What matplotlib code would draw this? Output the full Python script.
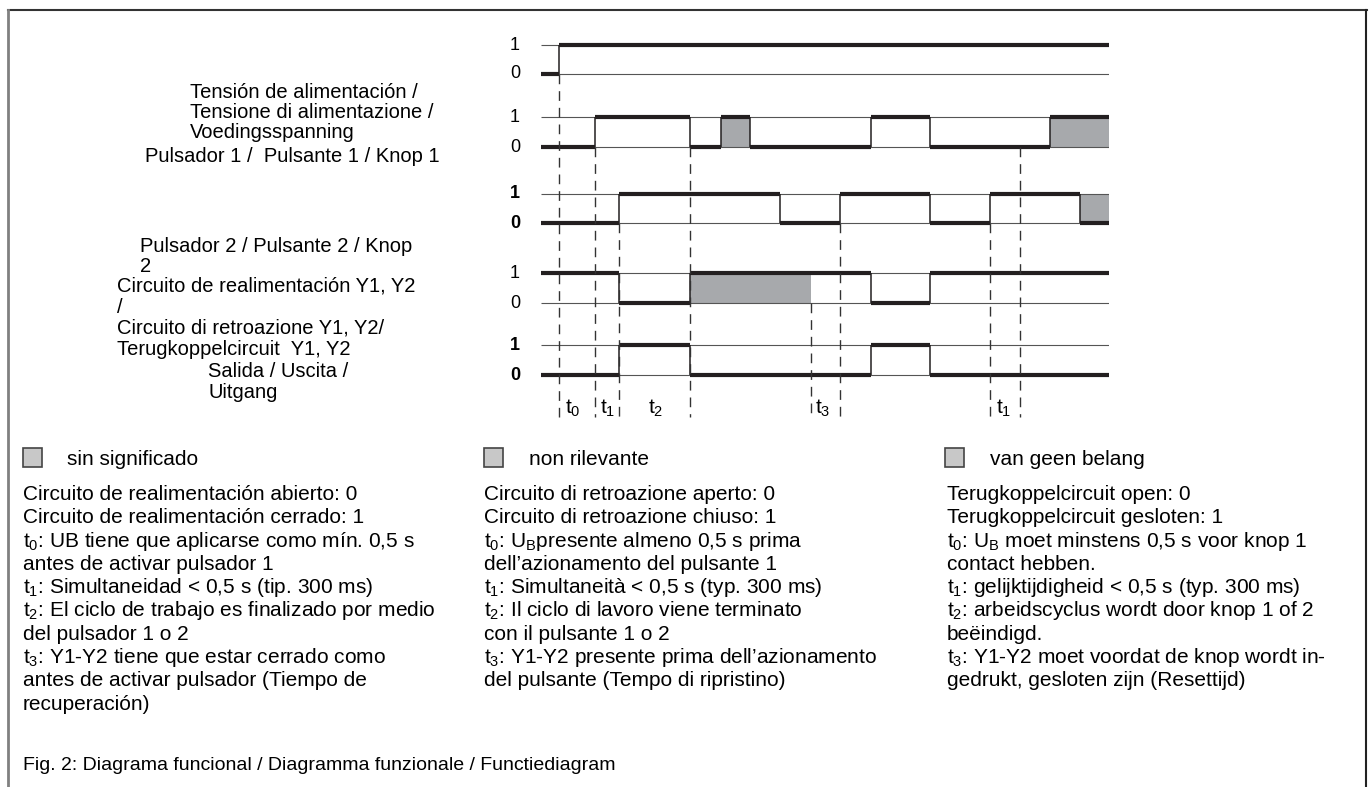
import matplotlib.pyplot as plt
from matplotlib.patches import Rectangle

plt.rcParams['font.family'] = ['Liberation Sans', 'DejaVu Sans']
plt.rcParams['mathtext.fontset'] = 'custom'
plt.rcParams['mathtext.rm'] = 'Liberation Sans'
plt.rcParams['mathtext.it'] = 'Liberation Sans:italic'

# tiempo del diagrama (unidades arbitrarias)
T_END = 56.8

# flancos y estados de cada señal: 0, 1, 'x1'/'x0' = sin significado (gris)
supply_edges = [0, 1.8, T_END]
supply_states = [0, 1]
p1_edges = [0, 5.4, 14.9, 18.0, 20.9, 33.0, 38.9, 50.9, T_END]
p1_states = [0, 1, 0, 'x1', 0, 1, 0, 'x1']
p2_edges = [0, 7.8, 23.9, 29.9, 38.9, 44.9, 53.9, T_END]
p2_states = [0, 1, 0, 1, 0, 1, 'x0']
fb_edges = [0, 7.8, 14.9, 27.0, 33.0, 38.9, T_END]
fb_states = [1, 0, 'x1', 1, 0, 1]
out_edges = [0, 7.8, 14.9, 33.0, 38.9, T_END]
out_states = [0, 1, 0, 1, 0]

# lineas de tiempo discontinuas: instante y fila donde empiezan
dash_times = [1.8, 5.4, 7.8, 14.9, 27.0, 29.9, 44.9, 47.9]
dash_rows = [0, 1, 2, 1, 3, 2, 2, 1]

t_names = ['0', '1', '2', '3', '1']
t_pos = [2.4, 5.9, 10.7, 27.4, 45.5]

level_bold = [False, False, True, False, True]

row_labels = [
    ("Tensión de alimentación /", 190, 91),
    ("Tensione di alimentazione /", 190, 111),
    ("Voedingsspanning", 190, 131),
    ("Pulsador 1 /  Pulsante 1 / Knop 1", 145, 155),
    ("Pulsador 2 / Pulsante 2 / Knop", 140, 245),
    ("2", 140, 265),
    ("Circuito de realimentación Y1, Y2", 117, 285),
    ("/", 117, 306),
    ("Circuito di retroazione Y1, Y2/", 117, 327),
    ("Terugkoppelcircuit  Y1, Y2", 117, 348),
    ("Salida / Uscita /", 208, 370),
    ("Uitgang", 208, 391),
]

legend_labels = ["sin significado", "non rilevante", "van geen belang"]

notes_es = [
    "Circuito de realimentación abierto: 0",
    "Circuito de realimentación cerrado: 1",
    "t$_0$: UB tiene que aplicarse como mín. 0,5 s",
    "antes de activar pulsador 1",
    "t$_1$: Simultaneidad < 0,5 s (tip. 300 ms)",
    "t$_2$: El ciclo de trabajo es finalizado por medio",
    "del pulsador 1 o 2",
    "t$_3$: Y1-Y2 tiene que estar cerrado como",
    "antes de activar pulsador (Tiempo de",
    "recuperación)",
]
notes_it = [
    "Circuito di retroazione aperto: 0",
    "Circuito di retroazione chiuso: 1",
    "t$_0$: U$_\\mathrm{B}$presente almeno 0,5 s prima",
    "dell’azionamento del pulsante 1",
    "t$_1$: Simultaneità < 0,5 s (typ. 300 ms)",
    "t$_2$: Il ciclo di lavoro viene terminato",
    "con il pulsante 1 o 2",
    "t$_3$: Y1-Y2 presente prima dell’azionamento",
    "del pulsante (Tempo di ripristino)",
]
notes_nl = [
    "Terugkoppelcircuit open: 0",
    "Terugkoppelcircuit gesloten: 1",
    "t$_0$: U$_\\mathrm{B}$ moet minstens 0,5 s voor knop 1",
    "contact hebben.",
    "t$_1$: gelijktijdigheid < 0,5 s (typ. 300 ms)",
    "t$_2$: arbeidscyclus wordt door knop 1 of 2",
    "beëindigd.",
    "t$_3$: Y1-Y2 moet voordat de knop wordt in-",
    "gedrukt, gesloten zijn (Resettijd)",
]
caption = "Fig. 2: Diagrama funcional / Diagramma funzionale / Functiediagram"

# --- layout ---
W, H = 1372, 787
X0, X1 = 541, 1109
ROWS = [(45, 74), (117, 147), (194, 223), (273, 303), (345, 375)]
DASH_BOTTOM = 417
INK = '#231f20'
GRAY = '#a7a9ac'
FS = 15

fig = plt.figure(figsize=(W / 100, H / 100), dpi=100)
ax = fig.add_axes([0, 0, 1, 1])
ax.set_xlim(0, W)
ax.set_ylim(H, 0)
ax.axis('off')

axd = fig.add_axes([X0 / W, 0, (X1 - X0) / W, 1])
axd.set_xlim(0, T_END)
axd.set_ylim(H, 0)
axd.axis('off')


def nivel(s, y1, y0):
    return y1 if s in (1, 'x1') else y0


def dibujar_senal(edges, states, y1, y0):
    axd.hlines([y1, y0], 0, T_END, color='#555555', lw=0.8)
    for i, s in enumerate(states):
        a, b = edges[i], edges[i + 1]
        if s in ('x1', 'x0'):
            axd.fill_between([a, b], y1, y0, color=GRAY, lw=0)
        axd.hlines(nivel(s, y1, y0), a, b, color=INK, lw=3)
        if i > 0:
            prev = states[i - 1]
            cambia = nivel(prev, y1, y0) != nivel(s, y1, y0)
            entra_gris = s in ('x1', 'x0') and prev not in ('x1', 'x0')
            if cambia or entra_gris:
                axd.vlines(a, y1, y0, color=INK, lw=1.1)


signals = [(supply_edges, supply_states), (p1_edges, p1_states),
           (p2_edges, p2_states), (fb_edges, fb_states),
           (out_edges, out_states)]

for (edges, states), (y1, y0), bold in zip(signals, ROWS, level_bold):
    dibujar_senal(edges, states, y1, y0)
    w = 'bold' if bold else 'normal'
    ax.text(515, y1, "1", ha='center', va='center', fontsize=13, fontweight=w)
    ax.text(515, y0, "0", ha='center', va='center', fontsize=13, fontweight=w)

for t, r in zip(dash_times, dash_rows):
    axd.vlines(t, ROWS[r][1], DASH_BOTTOM, color='#333333', lw=1,
               linestyles=(0, (7, 5)))

for name, t in zip(t_names, t_pos):
    axd.text(t, 414, "t$_%s$" % name, ha='left', va='baseline', fontsize=15)

for txt, x, y in row_labels:
    ax.text(x, y + 7, txt, ha='left', va='baseline', fontsize=14.5)

# leyenda y notas
col_x = [23, 484, 947]
sq_x = [23, 484, 945]
lab_x = [67, 529, 990]
for cx, sx, lx, lab, notes in zip(col_x, sq_x, lab_x, legend_labels,
                                  [notes_es, notes_it, notes_nl]):
    ax.add_patch(Rectangle((sx, 448), 19, 19, facecolor='#c8c8c8',
                           edgecolor='#444444', lw=1.2))
    ax.text(lx, 458 + 7, lab, ha='left', va='baseline', fontsize=FS)
    for k, line in enumerate(notes):
        ax.text(cx, 493 + 23.3 * k + 7, line, ha='left', va='baseline',
                fontsize=FS)

ax.text(23, 763 + 7, caption, ha='left', va='baseline', fontsize=14)

# marco
ax.plot([8, 1367], [10, 10], color='#333333', lw=1.5)
ax.plot([8, 8], [10, H], color='#808080', lw=2)
ax.plot([1366, 1366], [10, H], color='#222222', lw=1.5)

fig.savefig('out.png', dpi=100)
